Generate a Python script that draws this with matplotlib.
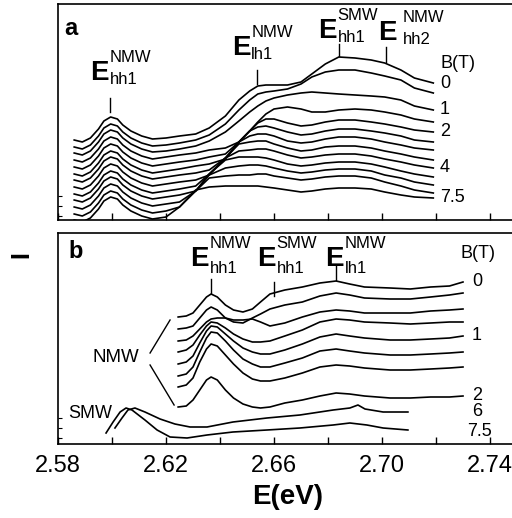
import matplotlib
matplotlib.use("Agg")
import matplotlib.pyplot as plt
from matplotlib.ticker import FixedLocator

plt.rcParams['font.family'] = ['Liberation Sans', 'DejaVu Sans']

# ---- panel a: spectra for 13 field values (vertically offset traces)
energy_a = [2.586, 2.589, 2.592, 2.595, 2.597, 2.5995, 2.602, 2.604, 2.607, 2.611, 2.615,
            2.620, 2.625, 2.631, 2.636, 2.642, 2.647, 2.651, 2.654, 2.657, 2.660, 2.665,
            2.670, 2.674, 2.679, 2.684, 2.690, 2.696, 2.701, 2.707, 2.712, 2.719]
spectra_a = [
    [80, 78, 82, 91, 99, 103, 101, 95, 89, 84, 81, 82, 84, 86, 92, 104, 120, 129, 134, 135, 135, 135, 138, 146, 156, 163, 162, 160, 157, 150, 142, 137],
    [73, 71, 75, 84, 92, 96, 94, 88, 82, 77, 74, 75, 77, 80, 85, 96, 110, 120, 126, 128, 129, 131, 136, 143, 148, 150, 150, 147, 144, 140, 132, 127],
    [67, 65, 69, 78, 86, 90, 88, 82, 76, 71, 68, 69, 71, 74, 79, 88, 99, 108, 114, 119, 122, 125, 127, 128, 127, 126, 125, 124, 123, 120, 114, 110],
    [60, 58, 62, 71, 79, 83, 81, 75, 69, 64, 61, 63, 65, 67, 70, 72, 78, 89, 98, 106, 111, 113, 111, 108, 108, 110, 111, 110, 108, 105, 101, 98],
    [53, 51, 55, 64, 72, 76, 74, 68, 62, 57, 54, 56, 58, 60, 63, 66, 78, 89, 97, 101, 101, 97, 94, 95, 98, 100, 100, 98, 96, 93, 90, 88],
    [46, 44, 48, 57, 65, 69, 67, 61, 55, 50, 47, 49, 51, 54, 56, 61, 78, 89, 93, 94, 92, 88, 85, 86, 89, 91, 91, 89, 87, 84, 80, 78],
    [40, 38, 42, 51, 59, 63, 61, 55, 49, 44, 41, 43, 45, 47, 50, 62, 78, 84, 86, 86, 84, 79, 77, 78, 81, 83, 83, 81, 78, 75, 72, 70],
    [33, 31, 35, 44, 52, 56, 54, 48, 42, 37, 34, 36, 38, 40, 45, 62, 76, 78, 79, 79, 76, 72, 69, 70, 73, 74, 74, 72, 69, 66, 63, 60],
    [26, 24, 28, 37, 45, 49, 47, 41, 35, 30, 27, 29, 31, 34, 46, 62, 69, 70, 71, 71, 69, 65, 62, 63, 65, 66, 66, 64, 61, 58, 55, 52],
    [20, 18, 22, 31, 39, 43, 41, 35, 29, 24, 21, 23, 25, 29, 46, 60, 63, 63, 63, 62, 60, 56, 54, 55, 57, 58, 58, 56, 53, 49, 46, 43],
    [13, 11, 15, 24, 32, 36, 34, 28, 22, 17, 14, 16, 18, 29, 45, 52, 54, 55, 55, 54, 52, 49, 47, 48, 50, 51, 51, 49, 45, 42, 38, 35],
    [6, 4, 8, 17, 25, 29, 27, 21, 15, 10, 7, 9, 13, 29, 42, 44, 45, 45, 46, 46, 44, 42, 40, 41, 43, 44, 44, 42, 38, 34, 30, 27],
    [0, -2, 2, 11, 19, 23, 21, 15, 9, 4, 1, 3, 13, 30, 33, 34, 34, 34, 34, 33, 32, 30, 28, 29, 31, 32, 32, 31, 28, 25, 23, 22],
]
field_labels_a = {0: "0", 2: "1", 4: "2", 8: "4", 12: "7.5"}

# ---- panel b: NMW traces and two SMW traces
energy_b = [2.6245, 2.6275, 2.630, 2.6325, 2.635, 2.6367, 2.639, 2.642, 2.645, 2.6485, 2.652, 2.655,
            2.6585, 2.664, 2.6705, 2.677, 2.683, 2.688, 2.6935, 2.703, 2.7105, 2.718, 2.725, 2.730]
nmw_b = [
    [127, 128, 131, 139, 147, 150, 147, 139, 134, 132, 135, 142, 150, 154, 157, 161, 163, 160, 157, 156, 155, 157, 158, 162],
    [115, 116, 118, 126, 134, 137, 134, 126, 122, 121, 126, 130, 135, 139, 142, 148, 151, 149, 146, 145, 145, 147, 149, 151],
    [103, 104, 108, 115, 122, 125, 126, 126, 124, 124, 125, 122, 118, 121, 127, 132, 134, 133, 131, 131, 131, 133, 134, 135],
    [92, 94, 99, 109, 118, 122, 121, 116, 110, 105, 102, 102, 103, 108, 114, 122, 125, 124, 122, 121, 120, 121, 122, 122],
    [80, 82, 88, 101, 113, 118, 117, 110, 103, 96, 92, 90, 90, 94, 100, 107, 110, 108, 106, 104, 104, 105, 106, 108],
    [68, 70, 77, 92, 106, 112, 111, 103, 94, 85, 80, 77, 77, 81, 86, 93, 95, 93, 91, 89, 89, 90, 91, 92],
    [57, 59, 66, 82, 95, 100, 98, 89, 80, 71, 65, 63, 63, 66, 71, 77, 79, 78, 76, 74, 74, 75, 76, 77],
    [37, 38, 44, 54, 64, 67, 64, 54, 46, 40, 37, 36, 37, 41, 44, 48, 51, 50, 48, 46, 46, 47, 47, 48],
]
field_labels_b = {0: "0", 4: "1", 7: "2"}

smw6_e = [2.6011, 2.6037, 2.6059, 2.6085, 2.6122, 2.6178, 2.6233, 2.6289, 2.6352,
          2.6448, 2.6574, 2.6696, 2.6819, 2.6881, 2.6911, 2.6937, 2.7004, 2.7096]
smw6_i = [16, 26, 34, 36, 32, 25, 20, 17, 17, 22, 26, 29, 34, 36, 39, 35, 32, 32]
smw75_e = [2.5978, 2.6004, 2.6030, 2.6052, 2.6074, 2.6122, 2.6167, 2.6215, 2.6278,
           2.6352, 2.6448, 2.6574, 2.6696, 2.6819, 2.6881, 2.6944, 2.7004, 2.7096]
smw75_i = [11, 22, 32, 36, 34, 24, 14, 7, 6, 9, 12, 14, 16, 19, 21, 19, 16, 14]

major_e = [2.58, 2.62, 2.66, 2.70, 2.74]
minor_e = [2.60, 2.64, 2.68, 2.72]

W, H = 512, 518
fig = plt.figure(figsize=(W / 100, H / 100), dpi=100)
ax_a = fig.add_axes([58 / W, (H - 220) / H, 459 / W, 216 / H])
ax_b = fig.add_axes([58 / W, (H - 444) / H, 459 / W, 211 / H])

lw = 1.2
for ax in (ax_a, ax_b):
    ax.set_xlim(2.58, 2.75)
    ax.xaxis.set_major_locator(FixedLocator(major_e))
    ax.xaxis.set_minor_locator(FixedLocator(minor_e))
    ax.tick_params(axis='x', which='both', direction='in', length=5, width=1, top=False)
    ax.tick_params(axis='y', which='both', direction='in', length=3, width=0.8, right=False)
    for s in ax.spines.values():
        s.set_linewidth(1.2)

ax_a.set_ylim(0, 216)
ax_b.set_ylim(0, 211)
ax_a.set_yticks([4, 14, 24])
ax_b.set_yticks([6, 16, 26])
ax_a.set_yticklabels([])
ax_b.set_yticklabels([])
ax_a.set_xticklabels([])
ax_b.tick_params(axis='x', labelsize=17, pad=8)
ax_b.set_xticklabels([f"{v:.2f}" for v in major_e])

for tr in spectra_a:
    ax_a.plot(energy_a, tr, color='black', lw=lw, solid_joinstyle='round')
for tr in nmw_b:
    ax_b.plot(energy_b, tr, color='black', lw=lw, solid_joinstyle='round')
ax_b.plot(smw6_e, smw6_i, color='black', lw=lw, solid_joinstyle='round')
ax_b.plot(smw75_e, smw75_i, color='black', lw=lw, solid_joinstyle='round')


def elabel(ax, x, y, sup, sub, dx=14, dsup=13, dsub=-3):
    ax.text(x, y, 'E', fontsize=20, fontweight='bold', va='baseline', ha='left')
    ax.annotate(sup, (x, y), xytext=(dx, dsup), textcoords='offset points',
                fontsize=12, va='baseline', ha='left')
    ax.annotate(sub, (x, y), xytext=(dx, dsub), textcoords='offset points',
                fontsize=12, va='baseline', ha='left')


def mark(ax, x, y0, y1):
    ax.plot([x, x], [y0, y1], color='black', lw=1.0)


# panel a labels
elabel(ax_a, 2.5919, 140, 'NMW', 'hh1')
elabel(ax_a, 2.6444, 165, 'NMW', 'lh1')
elabel(ax_a, 2.6763, 182, 'SMW', 'hh1')
elabel(ax_a, 2.6985, 180, 'NMW', 'hh2', dx=18)
mark(ax_a, 2.5993, 108, 122)
mark(ax_a, 2.6537, 136, 150)
mark(ax_a, 2.6841, 164, 176)
mark(ax_a, 2.7015, 158, 173)
ax_a.text(2.5822, 185, 'a', fontsize=17, fontweight='bold', va='baseline')
ax_a.text(2.7215, 152, 'B(T)', fontsize=13, va='baseline')
for i, lab in field_labels_a.items():
    ax_a.text(2.7215, spectra_a[i][-1], lab, fontsize=13, va='center', ha='left')

# panel b labels
elabel(ax_b, 2.6289, 178, 'NMW', 'hh1', dsup=13, dsub=-5)
elabel(ax_b, 2.6537, 178, 'SMW', 'hh1', dsup=13, dsub=-5)
elabel(ax_b, 2.6789, 178, 'NMW', 'lh1', dsup=13, dsub=-5)
mark(ax_b, 2.6367, 151, 165)
mark(ax_b, 2.6600, 148, 162)
mark(ax_b, 2.6830, 164, 178)
ax_b.text(2.5837, 186, 'b', fontsize=17, fontweight='bold', va='baseline')
ax_b.text(2.7289, 186, 'B(T)', fontsize=13, va='baseline')
for i, lab in field_labels_b.items():
    ax_b.text(2.7333, nmw_b[i][-1], lab, fontsize=13, va='center', ha='left')
ax_b.text(2.7333, smw6_i[-1], '6', fontsize=13, va='center', ha='left')
ax_b.text(2.7315, smw75_i[-1] - 2, '7.5', fontsize=13, va='center', ha='left')
ax_b.text(2.5926, 86, 'NMW', fontsize=13.5, va='center', ha='left')
ax_b.plot([2.6141, 2.6215], [91, 124], color='black', lw=1.0)
ax_b.plot([2.6141, 2.6230], [79, 39], color='black', lw=1.0)
ax_b.text(2.5837, 31, 'SMW', fontsize=13, va='center', ha='left')

fig.text(21 / W, 1 - 255 / H, 'I', rotation=90, fontsize=18, fontweight='bold',
         ha='center', va='center')
fig.text(288 / W, 1 - 497 / H, 'E(eV)', fontsize=20, fontweight='bold',
         ha='center', va='center')

fig.savefig('out.png', dpi=100)
